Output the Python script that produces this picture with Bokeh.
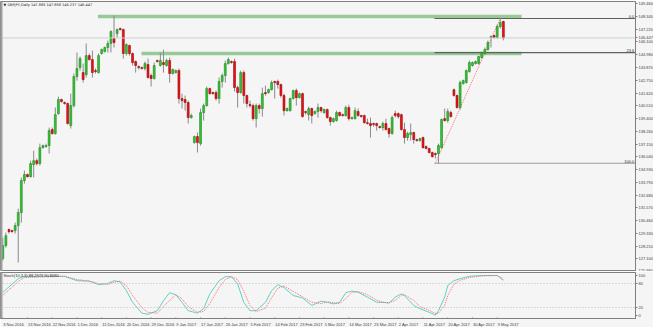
from bokeh.plotting import figure
from bokeh.layouts import column
from bokeh.models import FixedTicker, Label, Span, ColumnDataSource, Range1d
from bokeh.embed import file_html
from bokeh.resources import INLINE

# ---------------- data (GBPJPY daily) ----------------
opens = [127.12,128.26,129.66,129.57,129.57,130.01,131.15,133.95,134.48,134.30,
         135.35,135.70,135.44,136.84,136.93,137.02,138.42,138.07,139.82,141.05,
         140.79,140.70,138.77,140.52,143.06,143.85,143.41,143.24,144.90,144.55,
         143.59,143.41,145.08,145.26,145.61,145.96,146.39,146.83,147.27,147.18,
         145.08,145.78,145.08,144.38,143.94,143.85,143.77,144.12,143.15,142.89,
         144.47,144.03,144.29,144.03,144.47,143.33,143.41,143.59,141.14,141.05,
         140.79,139.47,137.28,137.81,137.19,139.91,140.52,142.01,141.66,141.66,
         141.14,142.63,143.15,144.20,144.38,144.38,142.10,141.66,143.41,141.40,
         140.61,140.52,139.38,140.52,140.26,141.66,141.66,141.92,142.63,142.63,
         142.36,141.40,140.08,140.08,141.14,141.84,141.22,141.57,140.00,139.73,
         140.26,139.82,140.00,140.35,139.91,140.17,139.47,139.12,139.21,139.91,
         139.73,139.65,140.35,139.38,139.38,140.00,139.65,139.65,139.03,138.95,
         138.95,138.95,138.68,138.60,138.95,138.51,138.07,139.82,139.82,139.73,
         138.42,137.72,137.98,138.16,137.54,137.46,137.72,136.93,136.76,136.41,
         136.32,136.32,136.84,139.38,139.21,139.91,141.92,141.40,140.35,142.45,
         142.54,143.50,144.03,144.20,144.20,144.73,145.08,145.43,146.48,146.66,
         146.48,147.45,147.89]
highs = [128.96,129.40,129.75,129.66,130.27,131.50,134.22,134.83,134.57,135.70,
         136.58,135.88,137.19,137.11,137.19,138.60,138.60,140.35,141.31,141.14,
         140.87,140.79,141.57,143.33,145.17,144.82,144.20,145.96,145.08,145.34,
         143.77,145.08,145.52,145.69,146.22,147.10,148.41,147.27,147.36,147.27,
         145.96,145.87,145.17,144.47,144.03,143.94,144.38,144.64,143.33,144.29,
         144.55,145.17,145.43,144.64,144.73,143.77,143.68,143.77,141.57,141.40,
         140.96,139.82,137.89,138.16,140.26,140.70,142.19,142.10,141.75,141.84,
         142.98,143.33,144.47,144.73,144.47,144.64,142.27,143.59,143.59,141.49,
         140.96,140.70,140.70,140.70,142.10,142.27,142.01,142.71,142.71,142.80,
         142.45,141.57,140.35,141.22,141.92,142.01,141.66,141.66,140.08,140.43,
         140.35,140.08,140.70,140.43,140.26,140.26,139.56,139.47,140.08,140.00,
         139.82,140.52,140.61,139.56,140.35,140.26,139.73,139.73,139.38,139.47,
         139.03,139.03,138.77,139.12,139.38,138.60,139.65,140.08,139.91,139.82,
         139.03,138.24,138.95,138.24,137.63,137.72,137.81,137.02,136.84,136.49,
         136.41,137.19,139.38,140.26,140.26,140.08,142.01,141.49,142.71,142.80,
         143.68,144.47,144.38,144.47,144.90,145.26,145.61,146.22,146.66,146.74,
         147.62,148.15,147.96]
lows = [126.94,128.08,129.31,129.40,129.31,126.77,130.27,133.69,134.22,134.22,
        134.22,135.27,135.27,136.76,136.84,136.32,137.98,137.98,139.73,140.79,
        140.61,138.86,138.51,140.35,142.71,143.59,142.54,142.98,144.47,142.98,
        143.33,143.33,144.99,145.17,145.17,145.17,145.61,146.48,147.10,144.64,
        144.90,144.90,144.03,143.41,143.68,143.68,143.59,142.89,142.19,142.80,
        144.29,143.94,143.41,143.94,142.54,143.24,143.33,140.70,140.26,140.08,
        138.95,139.38,137.19,136.41,137.02,139.21,140.43,141.49,141.49,140.96,
        140.70,142.10,142.54,144.12,144.20,141.75,140.35,141.57,140.70,140.35,
        140.35,139.21,138.60,139.82,139.56,141.40,141.57,141.84,141.14,142.01,
        141.22,139.65,140.00,140.00,141.05,140.52,141.14,139.47,139.73,139.21,
        138.95,139.73,139.47,139.91,139.82,139.38,138.77,139.03,139.12,139.56,
        139.56,139.56,139.21,139.30,139.30,139.56,139.47,138.95,138.86,137.72,
        138.68,138.33,138.51,138.33,138.33,137.72,137.98,139.47,139.38,138.33,
        137.19,137.46,137.46,137.19,137.37,137.37,136.76,136.67,136.32,135.97,
        135.88,135.47,136.76,139.12,139.03,139.47,141.31,140.26,140.17,142.36,
        142.45,143.41,143.94,144.12,144.12,144.64,144.99,145.34,145.61,146.39,
        146.39,147.27,146.24]
closes = [128.26,129.13,129.48,129.48,130.01,131.15,133.95,134.48,134.30,135.44,
          135.70,135.44,136.84,137.02,137.02,138.33,138.07,139.73,141.05,140.87,
          140.70,138.95,140.52,143.06,143.77,144.64,142.80,144.90,144.55,143.41,
          143.50,144.90,145.43,145.61,145.96,147.01,146.04,147.18,147.18,145.08,
          145.87,145.08,144.29,144.03,143.85,143.77,144.20,142.98,142.89,144.03,
          144.38,144.47,144.12,144.47,143.33,143.68,143.59,141.14,140.96,140.79,
          139.47,139.65,137.81,137.28,139.91,140.52,142.01,141.57,141.57,141.14,
          142.63,143.15,144.20,144.55,144.29,142.10,141.66,143.41,141.40,140.70,
          140.52,139.38,140.52,140.26,141.57,141.57,141.92,142.54,142.54,142.36,
          141.40,140.08,140.26,141.14,141.84,141.22,141.57,139.56,139.91,140.26,
          139.65,140.00,140.35,140.08,140.17,139.47,139.12,139.38,139.91,139.65,
          139.65,140.35,139.38,139.47,140.08,139.65,139.56,139.03,138.95,138.77,
          138.86,138.77,138.60,138.95,138.42,138.07,139.47,139.65,139.56,138.42,
          137.72,138.07,138.16,137.54,137.46,137.63,136.84,136.76,136.41,136.05,
          136.23,137.02,139.30,139.21,140.00,139.56,141.40,140.35,142.54,142.71,
          143.59,144.29,144.29,144.38,144.82,145.17,145.43,146.04,146.57,146.48,
          147.45,147.80,146.45]

# date labels every 8 bars
date_idx = [0, 8, 16, 24, 32, 40, 48, 56, 64, 72, 80, 88, 96, 104, 112, 120, 128, 136, 144, 152, 160]
date_labels = ["3 Nov 2016", "13 Nov 2016", "22 Nov 2016", "1 Dec 2016", "11 Dec 2016",
               "20 Dec 2016", "29 Dec 2016", "9 Jan 2017", "17 Jan 2017", "26 Jan 2017",
               "5 Feb 2017", "14 Feb 2017", "23 Feb 2017", "5 Mar 2017", "14 Mar 2017",
               "23 Mar 2017", "2 Apr 2017", "11 Apr 2017", "20 Apr 2017", "30 Apr 2017",
               "9 May 2017"]

price_labels = ["125.990", "127.100", "128.210", "129.330", "130.460", "131.570", "132.680",
                "133.790", "134.930", "136.040", "137.150", "138.260", "139.400", "140.510",
                "141.620", "142.750", "143.870", "144.980", "146.100", "147.220", "148.340",
                "149.460"]

# stochastic (10,3,3)
stoch_idx = [0, 5, 7, 20, 24, 28, 31, 34, 36, 38, 40, 42, 45, 47, 50, 52, 54, 56, 58, 60,
             63, 65, 67, 70, 72, 74, 76, 78, 80, 82, 85, 87, 89, 91, 94, 97, 100, 103, 105, 107,
             109, 111, 113, 115, 118, 121, 123, 125, 127, 129, 130, 133, 135, 138, 140, 141, 143, 144, 146, 148,
             151, 155, 160, 162]
stoch_k = [58, 92, 98, 98, 87, 86, 77, 80, 87, 84, 62, 33, 6, 3, 12, 37, 57, 52, 33, 12,
           6, 17, 54, 87, 97, 97, 79, 33, 12, 12, 33, 62, 77, 70, 50, 44, 25, 36, 33, 29,
           33, 57, 61, 58, 46, 33, 33, 31, 46, 54, 50, 25, 17, 8, 1, 12, 46, 75, 87, 92,
           98, 100, 100, 88]
stoch_d = [50, 85, 95, 98, 90, 86, 80, 78, 83, 86, 75, 50, 20, 8, 6, 22, 38, 52, 42, 22,
           8, 10, 30, 70, 90, 97, 90, 60, 25, 10, 18, 45, 68, 74, 60, 47, 33, 30, 34, 32,
           30, 42, 58, 60, 52, 38, 33, 32, 38, 50, 52, 38, 22, 13, 5, 6, 25, 50, 78, 88,
           95, 99, 100, 91]
stoch_levels = [20, 80]

# drawn objects
band_prices = [148.32, 145.08]
band_start = [30.8, 44.9]
band_end = 167.9
fib_high = 148.15
fib_low = 135.47
fib_start = 140
fib_end = 161
fib_levels = [0.0, 23.6, 100.0]
bid = 146.447

# ---------------- figures ----------------
X0, X1 = -0.74, 204.76
BAR_PX = 3.09
FONT = "Liberation Sans"
FS = 4.0
BG = "#f5f5f5"

# approximate Arial/Liberation Sans advance widths (em) used to left-align date labels
CW = {" ": 0.278, "N": 0.722, "o": 0.556, "v": 0.5, "D": 0.722, "e": 0.556, "c": 0.5,
      "J": 0.5, "a": 0.556, "n": 0.556, "F": 0.611, "b": 0.556, "M": 0.833, "r": 0.333,
      "A": 0.667, "p": 0.556, "y": 0.5}


def text_w(t):
    return sum(CW.get(ch, 0.556) for ch in t) * FS


n = len(opens)
idx = list(range(n))
up = [c >= o for o, c in zip(opens, closes)]
src = ColumnDataSource(dict(
    x=idx, o=opens, h=highs, l=lows, c=closes,
    top=[max(o, c) for o, c in zip(opens, closes)],
    bot=[min(o, c) for o, c in zip(opens, closes)],
    fill=["#36c236" if u else "#e8141c" for u in up],
    line=["#1f8a1f" if u else "#a00000" for u in up],
))

p = figure(frame_width=635, frame_height=270, x_range=Range1d(X0, X1),
           y_range=Range1d(125.99, 149.64), x_axis_location=None, y_axis_location="right",
           output_backend="svg", toolbar_location=None,
           min_border_left=0, min_border_right=18, min_border_top=1, min_border_bottom=0,
           background_fill_color=BG, border_fill_color=BG, outline_line_color="#808080")
p.grid.visible = False
ya = p.yaxis[0]
ticks_main = [float(s) for s in price_labels] + [bid]
ya.ticker = FixedTicker(ticks=ticks_main)
ov = {float(s): s for s in price_labels}
ov[bid] = "%.3f" % bid
ya.major_label_overrides = ov
ya.major_label_text_font = FONT
ya.major_label_text_font_size = "4px"
ya.major_label_text_color = "#404040"
ya.major_label_standoff = 1
ya.major_tick_out = 2
ya.major_tick_in = 0
ya.minor_tick_out = 0
ya.minor_tick_in = 0
ya.axis_line_color = "#808080"
ya.major_tick_line_color = "#808080"

# bid line
p.add_layout(Span(location=bid, dimension="width", line_color="#cfcfcf", line_width=1))

# green bands
for bp, bs in zip(band_prices, band_start):
    p.segment(x0=bs, y0=bp, x1=band_end, y1=bp, line_color="#7fbf7f", line_width=3.5, line_alpha=0.8)

# fib levels
rng = fib_high - fib_low
for lv in fib_levels:
    pr = fib_high - lv / 100.0 * rng
    col = "#9a9a9a" if lv == 100.0 else "#606060"
    p.segment(x0=fib_start - 0.3, y0=pr, x1=X1, y1=pr, line_color=col, line_width=1.2)
    txt = ("%.1f" % lv)
    p.add_layout(Label(x=X1 - 0.4, y=pr, text=txt, text_align="right", text_baseline="bottom",
                       y_offset=0.5, text_font=FONT, text_font_size="4px", text_color="#303030"))
p.line(x=[fib_start, fib_end], y=[fib_low, fib_high], line_color="#ff7070", line_width=1, line_dash="1 1")

# candles
p.segment(x0="x", y0="l", x1="x", y1="h", source=src, line_color="#8a8a8a", line_width=1)
p.vbar(x="x", top="top", bottom="bot", width=0.62, source=src,
       fill_color="fill", line_color="line", line_width=0.6)

# left border
p.add_layout(Span(location=X0, dimension="height", line_color="#a0a0a0", line_width=4))

# header
p.add_layout(Label(x=X0 + 1.0, y=149.37, text="\u25bc GBPJPY,Daily 147.885 147.858 146.237 146.447",
                   text_baseline="middle", text_font="DejaVu Sans", text_font_size="3.5px",
                   text_color="#202020"))

# ---------------- stochastic panel ----------------
s = figure(frame_width=635, frame_height=46, x_range=Range1d(X0, X1), y_range=Range1d(-7.5, 107.5),
           y_axis_location="right", output_backend="svg", toolbar_location=None,
           min_border_left=0, min_border_right=18, min_border_top=1, min_border_bottom=0,
           background_fill_color=BG, border_fill_color=BG, outline_line_color="#808080")
s.grid.visible = False
sy = s.yaxis[0]
sy.ticker = FixedTicker(ticks=[0, 20, 80, 100])
sy.major_label_text_font = FONT
sy.major_label_text_font_size = "4px"
sy.major_label_text_color = "#404040"
sy.major_label_standoff = 1
sy.major_tick_out = 2
sy.major_tick_in = 0
sy.minor_tick_out = 0
sy.minor_tick_in = 0
sy.axis_line_color = "#808080"
sy.major_tick_line_color = "#808080"

# date labels: place label centres so the text starts at its bar
label_pos = [i + (text_w(t) / 2 + 0.5) / BAR_PX for i, t in zip(date_idx, date_labels)]
sx = s.xaxis[0]
sx.ticker = FixedTicker(ticks=label_pos)
sx.major_label_overrides = {x: t for x, t in zip(label_pos, date_labels)}
sx.major_label_text_font = FONT
sx.major_label_text_font_size = "4px"
sx.major_label_text_color = "#404040"
sx.major_label_standoff = 1
sx.major_tick_out = 2
sx.major_tick_in = 0
sx.minor_tick_out = 0
sx.minor_tick_in = 0
sx.axis_line_color = "#808080"
sx.major_tick_line_color = None

# tick marks at the bars themselves
s.segment(x0=date_idx, y0=[-7.5] * len(date_idx), x1=date_idx, y1=[-5.0] * len(date_idx),
          line_color="#808080", line_width=1)

for lv in stoch_levels:
    s.add_layout(Span(location=lv, dimension="width", line_color="#bdbdbd", line_width=1, line_dash="1 2"))
s.line(x=stoch_idx, y=stoch_k, line_color="#5fd0c8", line_width=1)
s.line(x=stoch_idx, y=stoch_d, line_color="#ff6a6a", line_width=1, line_dash="1 1")
s.add_layout(Span(location=X0, dimension="height", line_color="#a0a0a0", line_width=4))
s.add_layout(Label(x=X0 + 1.0, y=100, text="Stoch(10,3,3) 88.2979 90.8680", text_baseline="middle",
                   text_font=FONT, text_font_size="4px", text_color="#303030"))

layout = column(p, s, spacing=0)
open("out.html", "w").write(file_html(layout, INLINE))
